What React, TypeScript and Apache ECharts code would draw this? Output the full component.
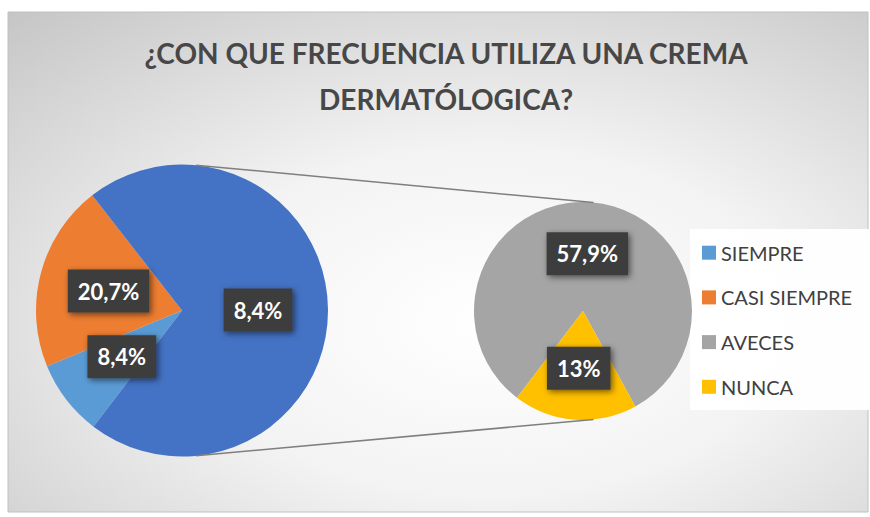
import React, { useEffect, useRef } from "react";
import * as echarts from "echarts";

const titleLines = ["¿CON QUE FRECUENCIA UTILIZA UNA CREMA", "DERMATÓLOGICA?"];
const mainNames = ["SIEMPRE", "CASI SIEMPRE", "Otros"];
const mainValues = [8.4, 20.7, 70.9];
const mainLabels = ["8,4%", "20,7%", "8,4%"];
const mainColors = ["#5B9BD5", "#ED7D31", "#4472C4"];
const subNames = ["AVECES", "NUNCA"];
const subValues = [57.9, 13];
const subLabels = ["57,9%", "13%"];
const subColors = ["#A5A5A5", "#FFC000"];
const legendNames = ["SIEMPRE", "CASI SIEMPRE", "AVECES", "NUNCA"];

const W = 870;
const H = 517;
const FONT = "Lato, 'Open Sans', sans-serif";

export default function App() {
  const ref = useRef<HTMLDivElement>(null);
  useEffect(() => {
    document.body.style.margin = "0";
    if (!ref.current) return;
    const chart = echarts.init(ref.current, null, { renderer: "svg" });

    const mainC = [182, 310.5];
    const mainR = 146;
    const subC = [583, 311];
    const subR = 109;
    const connAngle = (84.5 * Math.PI) / 180;
    const pt = (c: number[], r: number, sign: number) => [
      c[0] + r * Math.cos(connAngle),
      c[1] - sign * r * Math.sin(connAngle),
    ];
    const topA = pt(mainC, mainR, 1);
    const topB = pt(subC, subR, 1);
    const botA = pt(mainC, mainR, -1);
    const botB = pt(subC, subR, -1);

    const labelStyle = {
      show: true,
      position: "inside",
      color: "#ffffff",
      fontFamily: FONT,
      fontWeight: "bold",
      fontSize: 22,
      lineHeight: 23,
      backgroundColor: "#3d3d3d",
      padding: [10, 10, 10, 10],
      shadowColor: "rgba(0,0,0,0.55)",
      shadowBlur: 6,
      shadowOffsetX: 2,
      shadowOffsetY: 2,
    };

    chart.setOption({
      animation: false,
      graphic: [
        {
          type: "rect",
          z: -10,
          silent: true,
          shape: { x: 8, y: 12, width: 860, height: 500 },
          style: {
            fill: new echarts.graphic.RadialGradient(0.56, 0.62, 1.0, [
              { offset: 0, color: "#ffffff" },
              { offset: 0.35, color: "#f3f3f3" },
              { offset: 1, color: "#b6b6b6" },
            ]),
            stroke: "#c0c0c0",
            lineWidth: 1,
          },
        },
        {
          type: "rect",
          z: -5,
          silent: true,
          shape: { x: 690, y: 229, width: 179, height: 181 },
          style: { fill: "rgba(255,255,255,0.92)" },
        },
        {
          type: "text",
          x: 446,
          y: 76,
          silent: true,
          style: {
            text: titleLines.join("\n"),
            align: "center",
            verticalAlign: "middle",
            fontFamily: FONT,
            fontWeight: "bold",
            fontSize: 28,
            lineHeight: 46,
            fill: "#474747",
          },
        },
        {
          type: "line",
          silent: true,
          z: 5,
          shape: { x1: topA[0], y1: topA[1], x2: topB[0], y2: topB[1] },
          style: { stroke: "#7f7f7f", lineWidth: 1.5 },
        },
        {
          type: "line",
          silent: true,
          z: 5,
          shape: { x1: botA[0], y1: botA[1], x2: botB[0], y2: botB[1] },
          style: { stroke: "#7f7f7f", lineWidth: 1.5 },
        },
      ],
      legend: {
        data: legendNames,
        orient: "vertical",
        left: 702,
        top: 242.7,
        itemWidth: 14,
        itemHeight: 14,
        itemGap: 24.7,
        icon: "rect",
        selectedMode: false,
        padding: 0,
        textStyle: {
          fontFamily: FONT,
          fontSize: 20,
          lineHeight: 20,
          color: "#404040",
        },
      },
      series: [
        {
          type: "pie",
          center: mainC,
          radius: [0, mainR],
          startAngle: 232.7,
          clockwise: true,
          silent: true,
          labelLine: { show: false },
          itemStyle: { borderWidth: 0 },
          data: mainNames.map((n, i) => ({
            name: n,
            value: mainValues[i],
            itemStyle: { color: mainColors[i] },
            label: { ...labelStyle, formatter: mainLabels[i] },
          })),
        },
        {
          type: "pie",
          center: subC,
          radius: [0, subR],
          startAngle: 232.7,
          clockwise: true,
          silent: true,
          labelLine: { show: false },
          itemStyle: { borderWidth: 0 },
          data: subNames.map((n, i) => ({
            name: n,
            value: subValues[i],
            itemStyle: { color: subColors[i] },
            label: { ...labelStyle, formatter: subLabels[i] },
          })),
        },
      ],
    });
    return () => chart.dispose();
  }, []);
  return <div ref={ref} style={{ width: W, height: H, background: "#ffffff" }} />;
}
